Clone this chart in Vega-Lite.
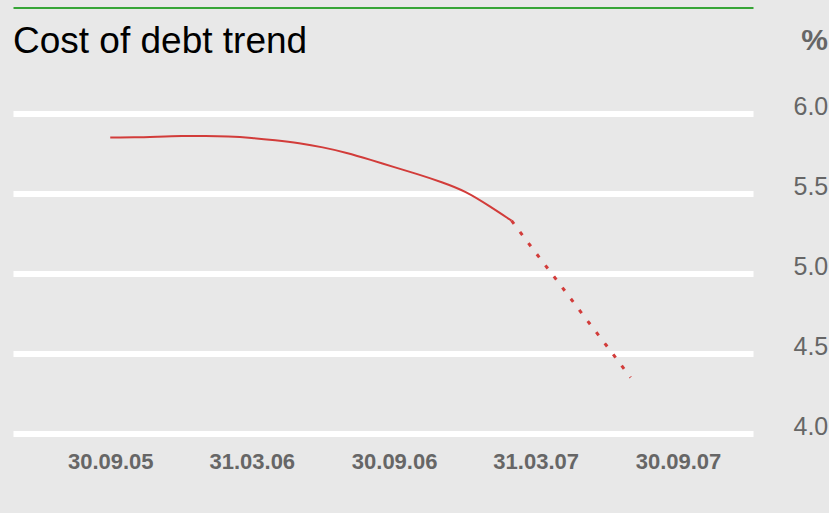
{
  "$schema": "https://vega.github.io/schema/vega-lite/v6.json",
  "width": 740,
  "height": 320,
  "autosize": {"type": "none"},
  "padding": {"left": 13, "top": 113.5, "right": 76, "bottom": 79.5},
  "background": "#e8e8e8",
  "config": {"view": {"stroke": null}, "font": "Liberation Sans"},
  "title": {
    "text": "Cost of debt trend",
    "anchor": "start",
    "frame": "group",
    "fontSize": 37,
    "fontWeight": "normal",
    "font": "Liberation Sans",
    "color": "#000000",
    "offset": 0,
    "dy": 53
  },
  "data": {
    "values": [
      {"date": "2005-09-30", "value": 5.85, "series": "actual"},
      {"date": "2005-10-31", "value": 5.85, "series": "actual"},
      {"date": "2005-11-30", "value": 5.855, "series": "actual"},
      {"date": "2005-12-31", "value": 5.86, "series": "actual"},
      {"date": "2006-01-31", "value": 5.86, "series": "actual"},
      {"date": "2006-02-28", "value": 5.857, "series": "actual"},
      {"date": "2006-03-31", "value": 5.848, "series": "actual"},
      {"date": "2006-04-30", "value": 5.833, "series": "actual"},
      {"date": "2006-05-31", "value": 5.815, "series": "actual"},
      {"date": "2006-06-30", "value": 5.79, "series": "actual"},
      {"date": "2006-07-31", "value": 5.755, "series": "actual"},
      {"date": "2006-08-31", "value": 5.71, "series": "actual"},
      {"date": "2006-09-30", "value": 5.665, "series": "actual"},
      {"date": "2006-10-31", "value": 5.62, "series": "actual"},
      {"date": "2006-11-30", "value": 5.572, "series": "actual"},
      {"date": "2006-12-31", "value": 5.515, "series": "actual"},
      {"date": "2007-01-31", "value": 5.42, "series": "actual"},
      {"date": "2007-02-28", "value": 5.33, "series": "actual"},
      {"date": "2007-02-28", "value": 5.33, "series": "forecast"},
      {"date": "2007-03-31", "value": 5.13, "series": "forecast"},
      {"date": "2007-04-30", "value": 4.94, "series": "forecast"},
      {"date": "2007-05-31", "value": 4.74, "series": "forecast"},
      {"date": "2007-06-30", "value": 4.55, "series": "forecast"},
      {"date": "2007-07-31", "value": 4.35, "series": "forecast"}
    ]
  },
  "encoding": {
    "y": {
      "field": "value",
      "type": "quantitative",
      "scale": {"domain": [4, 6], "nice": false, "zero": false},
      "axis": {
        "orient": "right",
        "values": [4, 4.5, 5, 5.5, 6],
        "format": ".1f",
        "grid": true,
        "gridColor": "#ffffff",
        "gridWidth": 6,
        "domain": false,
        "ticks": false,
        "tickSize": 0,
        "labelPadding": 40,
        "labelFontSize": 25,
        "labelColor": "#666666",
        "labelOffset": -7,
        "title": "%",
        "titleAngle": 0,
        "titleX": 61,
        "titleY": -73.5,
        "titleAlign": "center",
        "titleBaseline": "middle",
        "titleFontSize": 30,
        "titleFontWeight": "bold",
        "titleColor": "#666666"
      }
    }
  },
  "layer": [
    {
      "transform": [{"filter": "datum.series === 'actual'"}],
      "mark": {"type": "line", "color": "#d23c3a", "strokeWidth": 2, "interpolate": "basis"},
      "encoding": {
        "x": {
          "field": "date",
          "type": "temporal",
          "scale": {
            "type": "utc",
            "domain": [
              {"year": 2005, "month": 5, "date": 28, "utc": true},
              {"year": 2008, "month": 1, "date": 4, "hours": 10, "utc": true}
            ]
          },
          "axis": {
            "orient": "bottom",
            "values": [
              {"year": 2005, "month": 9, "date": 30, "utc": true},
              {"year": 2006, "month": 3, "date": 31, "utc": true},
              {"year": 2006, "month": 9, "date": 30, "utc": true},
              {"year": 2007, "month": 3, "date": 31, "utc": true},
              {"year": 2007, "month": 9, "date": 30, "utc": true}
            ],
            "format": "%d.%m.%y",
            "grid": false,
            "domain": false,
            "ticks": false,
            "tickSize": 0,
            "labelFlush": false,
            "labelPadding": 18,
            "labelFontSize": 22,
            "labelFontWeight": "bold",
            "labelColor": "#666666",
            "title": null
          }
        }
      }
    },
    {
      "transform": [{"filter": "datum.series === 'forecast'"}],
      "mark": {"type": "line", "color": "#d23c3a", "strokeWidth": 3, "strokeDash": [4, 10]},
      "encoding": {
        "x": {
          "field": "date",
          "type": "temporal",
          "scale": {
            "type": "utc",
            "domain": [
              {"year": 2005, "month": 5, "date": 28, "utc": true},
              {"year": 2008, "month": 1, "date": 4, "hours": 10, "utc": true}
            ]
          },
          "axis": {
            "orient": "top",
            "offset": 106,
            "domainColor": "#37a537",
            "domainWidth": 2,
            "labels": false,
            "ticks": false,
            "grid": false,
            "title": null
          }
        }
      }
    }
  ],
  "resolve": {"axis": {"x": "independent"}}
}
